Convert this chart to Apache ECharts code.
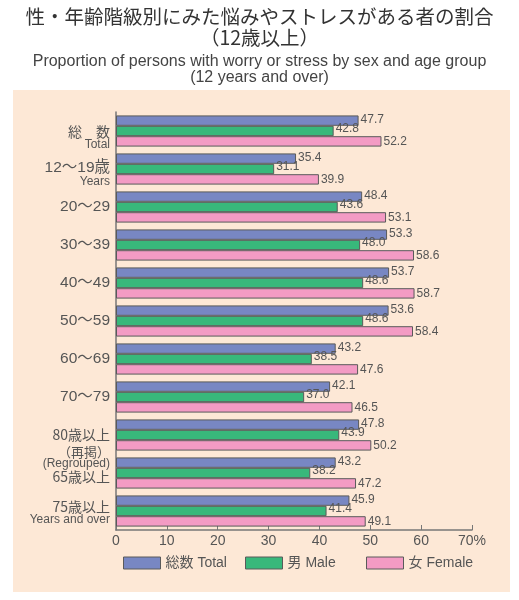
<!DOCTYPE html>
<html><head><meta charset="utf-8">
<script src="https://cdn.jsdelivr.net/npm/echarts@6/dist/echarts.min.js"></script>
<style>html,body{margin:0;padding:0;background:#fff}#c{width:519px;height:600px}</style>
</head><body><div id="c"></div>
<script>
var categories = ["総　数\nTotal","12〜19歳\nYears","20〜29","30〜39","40〜49","50〜59","60〜69","70〜79","80歳以上","（再掲）\n(Regrouped)\n65歳以上","75歳以上\nYears and over"];
var totalVals = [47.7,35.4,48.4,53.3,53.7,53.6,43.2,42.1,47.8,43.2,45.9];
var maleVals = [42.8,31.1,43.6,48.0,48.6,48.6,38.5,37.0,43.9,38.2,41.4];
var femaleVals = [52.2,39.9,53.1,58.6,58.7,58.4,47.6,46.5,50.2,47.2,49.1];
var seriesNames = ["総数 Total","男 Male","女 Female"];
var seriesColors = ["#7887c3","#38b87b","#f39bc4"];
var xTicks = [0,10,20,30,40,50,60,70];

var jpFont = '"Noto Sans CJK JP", sans-serif';
var enFont = '"Liberation Sans", "Noto Sans CJK JP", sans-serif';
var txt = '#555';

function catLabel(v, idx){
  var lines = v.split('\n');
  var out = lines.map(function(l){
    if (/^[\x00-\x7F]+$/.test(l) && /[A-Za-z]/.test(l)) return '{en|' + l + '}';
    if (l === '（再掲）') return '{sm|' + l + '}';
    if (l.indexOf('〜') >= 0) return '{num|' + l + '}';
    return '{jp|' + l + '}';
  });
  if (idx === 0) out.unshift('{sp13|}');
  if (idx === 1) out.unshift('{sp10|}');
  if (idx === 9) out.push('{sp16|}');
  if (idx === 10) out.unshift('{sp4|}');
  return out.join('\n');
}

function mkSeries(i, vals, offY){
  return {
    name: seriesNames[i], type: 'bar', data: vals,
    barGap: '0%', barCategoryGap: '18%',
    itemStyle: {color: seriesColors[i], borderColor: '#5a5a5a', borderWidth: 1},
    label: {show: true, position: 'right', distance: 2, offset: [0, offY],
      color: txt, fontSize: 12, fontFamily: enFont,
      formatter: function(p){ return p.value.toFixed(1); }},
    emphasis: {disabled: true}, animation: false
  };
}

function mkLegend(i, left){
  return {
    data: [{name: seriesNames[i], icon: 'rect'}], left: left, top: 556, itemWidth: 37, itemHeight: 12, padding: 0,
    itemStyle: {borderColor: '#5a5a5a', borderWidth: 1},
    textStyle: {color: txt, fontSize: 14, fontFamily: enFont}, selectedMode: false
  };
}

var chart = echarts.init(document.getElementById('c'), null, {renderer: 'canvas'});
chart.setOption({
  backgroundColor: '#fff',
  animation: false,
  graphic: [{type: 'rect', shape: {x: 13, y: 90, width: 497, height: 502}, style: {fill: '#fde8d6'}, z: -10}],
  title: [
    {text: '性・年齢階級別にみた悩みやストレスがある者の割合\n（12歳以上）', left: 'center', top: 6, padding: 0,
     textStyle: {fontSize: 19.5, fontWeight: 'normal', color: '#333', fontFamily: jpFont, lineHeight: 21}},
    {text: 'Proportion of persons with worry or stress by sex and age group\n(12 years and over)', left: 'center', top: 54, padding: 0,
     textStyle: {fontSize: 16, fontWeight: 'normal', color: '#444', fontFamily: enFont, lineHeight: 16}}
  ],
  legend: [mkLegend(0, 123), mkLegend(1, 245), mkLegend(2, 366)],
  grid: {left: 116, right: 47, top: 112, bottom: 70, containLabel: false},
  xAxis: {
    type: 'value', min: 0, max: 70, interval: 10,
    axisLine: {show: true, lineStyle: {color: '#777', width: 1.5}},
    axisTick: {show: true, inside: true, length: 5, lineStyle: {color: '#777'}},
    splitLine: {show: false},
    axisLabel: {color: txt, fontSize: 14, fontFamily: enFont, margin: 4,
      formatter: function(v){ return xTicks.indexOf(v) < 0 ? '' : (v === 70 ? v + '%' : String(v)); }}
  },
  yAxis: {
    type: 'category', data: categories, inverse: true,
    axisLine: {show: true, lineStyle: {color: '#777', width: 1.5}},
    axisTick: {show: false},
    axisLabel: {interval: 0, hideOverlap: false, margin: 6, color: txt, align: 'right', formatter: catLabel,
      rich: {
        jp: {fontSize: 14, fontFamily: jpFont, color: txt, lineHeight: 14, align: 'right'},
        num: {fontSize: 15.5, fontFamily: enFont, color: txt, lineHeight: 15, align: 'right'},
        sm: {fontSize: 13, fontFamily: jpFont, color: txt, lineHeight: 12, align: 'right'},
        en: {fontSize: 12, fontFamily: enFont, color: txt, lineHeight: 12, align: 'right'},
        sp4: {fontSize: 4, lineHeight: 4},
        sp10: {fontSize: 10, lineHeight: 10},
        sp13: {fontSize: 13, lineHeight: 13},
        sp16: {fontSize: 16, lineHeight: 16}
      }}
  },
  series: [
    mkSeries(0, totalVals, -1),
    mkSeries(1, maleVals, -2),
    mkSeries(2, femaleVals, 0)
  ]
});
</script></body></html>
